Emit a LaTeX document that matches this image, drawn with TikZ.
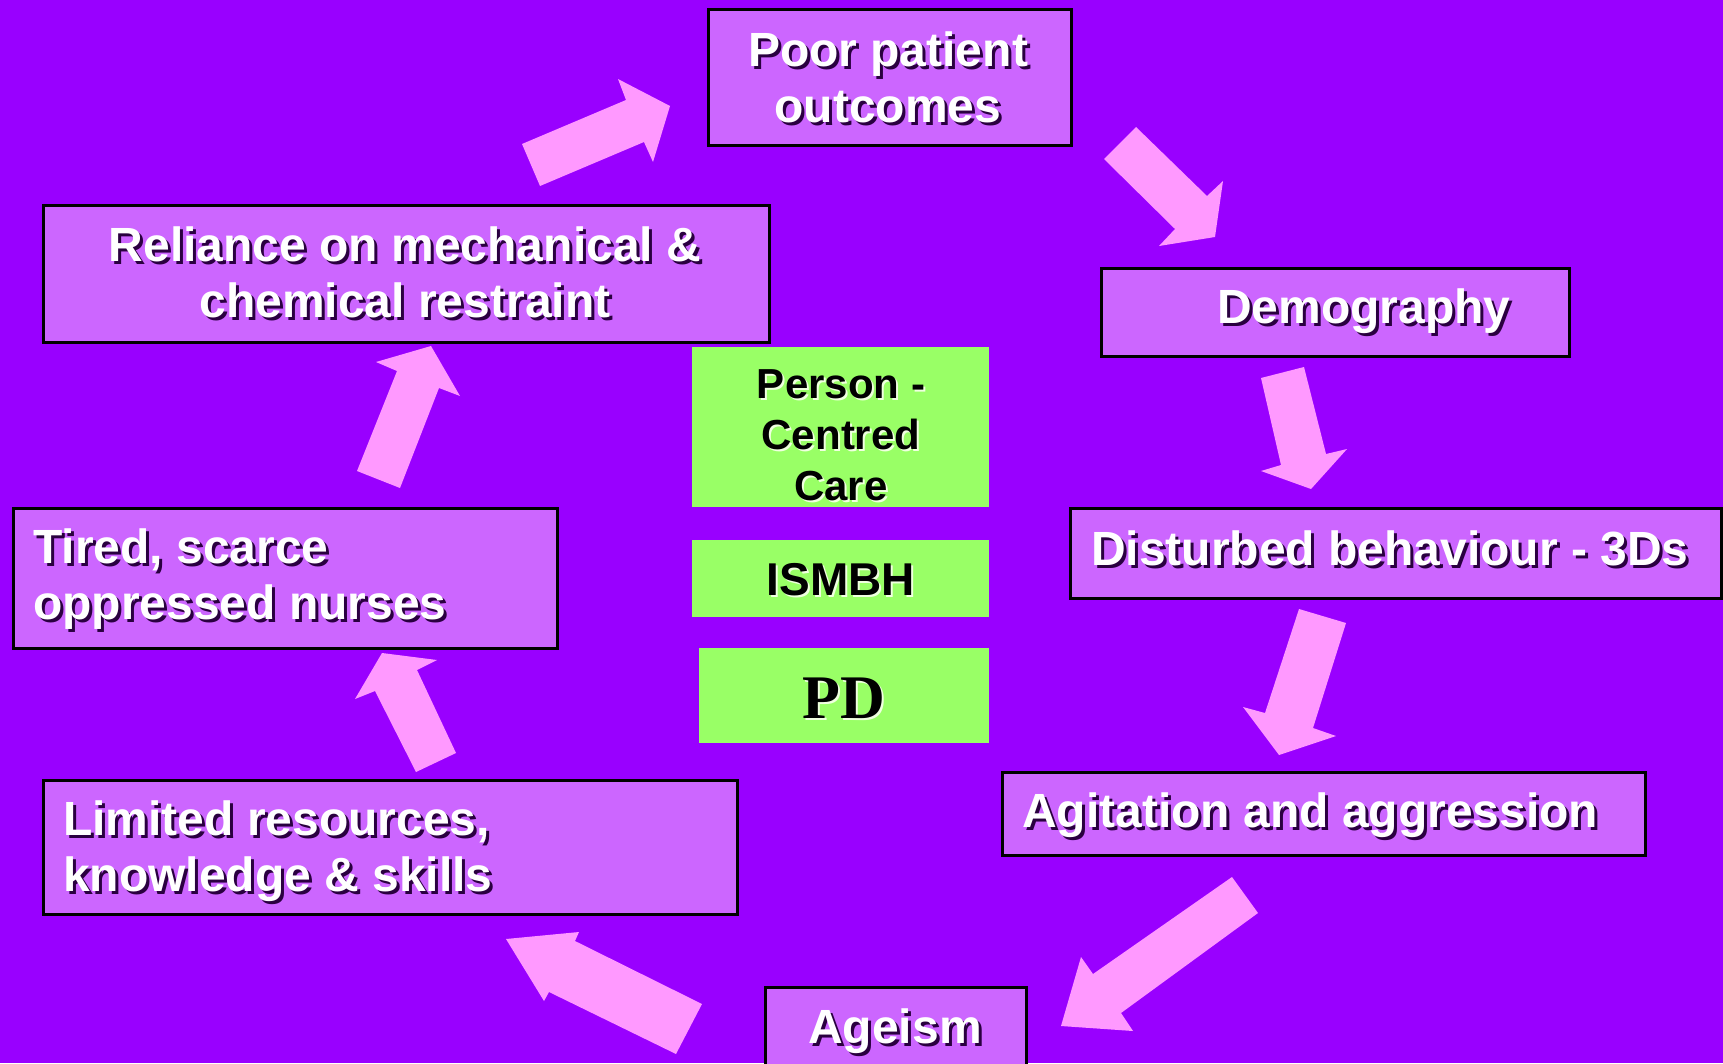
\documentclass[tikz,border=0pt]{standalone}
\usepackage{fontspec}
\setmainfont{Liberation Sans}
\newfontfamily\serifbold{Liberation Serif}
\definecolor{bgcol}{HTML}{9900FF}
\definecolor{boxcol}{HTML}{CC66FF}
\definecolor{arrcol}{HTML}{FF99FF}
\definecolor{greencol}{HTML}{99FF66}
\definecolor{darkshadow}{HTML}{2A0040}
\definecolor{lightshadow}{HTML}{F0FFE0}
\tikzset{
  box/.style={draw=black, line width=2.5pt, fill=boxcol, inner sep=0pt, anchor=north west},
  gbox/.style={fill=greencol, inner sep=0pt, anchor=north west},
  wtxt/.style={text=white, font=\fontsize{48}{56}\selectfont\bfseries, inner sep=0pt},
  gtxt/.style={text=black, font=\fontsize{42}{51}\selectfont\bfseries, inner sep=0pt, align=center},
  blockarrow/.style={fill=arrcol, draw=none}
}
\newcommand\shtext[6]{%
  \node[#3,text=#5] (#1-sh) at ([shift={(#6,#6)}]#2) {#4};
  \node[#3] (#1) at (#2) {#4};}
\begin{document}
\begin{tikzpicture}[x=1pt,y=-1pt]
\fill[bgcol] (0,0) rectangle (1723,1063);
\useasboundingbox (0,0) rectangle (1723,1063);
\clip (0,0) rectangle (1723,1063);

% boxes
\node[box, minimum width=363pt, minimum height=136pt] (poorbox) at (707,8) {};
\node[box, minimum width=726pt, minimum height=137pt] (relbox) at (42,204) {};
\node[box, minimum width=468pt, minimum height=88pt] (demobox) at (1100,267) {};
\node[box, minimum width=651pt, minimum height=90pt] (distbox) at (1069,507) {};
\node[box, minimum width=643pt, minimum height=83pt] (agitbox) at (1001,771) {};
\node[box, minimum width=261pt, minimum height=100pt] (agebox) at (764,986) {};
\node[box, minimum width=694pt, minimum height=134pt] (limbox) at (42,779) {};
\node[box, minimum width=544pt, minimum height=140pt] (tirbox) at (12,507) {};

\node[gbox, minimum width=297pt, minimum height=160pt] (pccbox) at (692,347) {};
\node[gbox, minimum width=297pt, minimum height=77pt] (ismbox) at (692,540) {};
\node[gbox, minimum width=290pt, minimum height=95pt] (pdbox) at (699,648) {};

% texts
\shtext{poor}{888,77}{wtxt,align=center}{Poor patient\\outcomes}{darkshadow}{3}
\shtext{rel}{405,272}{wtxt,align=center}{Reliance on mechanical \&\\chemical restraint}{darkshadow}{3}
\shtext{demo}{1217,311}{wtxt,anchor=west}{Demography}{darkshadow}{3}
\shtext{dist}{1091,548}{wtxt,anchor=west}{Disturbed behaviour - 3Ds}{darkshadow}{3}
\shtext{agit}{1022,815}{wtxt,anchor=west}{Agitation and aggression}{darkshadow}{3}
\shtext{age}{895,1031}{wtxt}{Ageism}{darkshadow}{3}
\shtext{lim}{63,851}{wtxt,anchor=west,align=left}{Limited resources,\\knowledge \& skills}{darkshadow}{3}
\shtext{tir}{33,579}{wtxt,anchor=west,align=left}{Tired, scarce\\oppressed nurses}{darkshadow}{3}

\shtext{pcc}{841,435}{gtxt}{Person -\\Centred\\Care}{lightshadow}{2}
\shtext{ism}{841,580}{gtxt,font=\fontsize{46}{51}\selectfont\bfseries}{ISMBH}{lightshadow}{2}
\shtext{pd}{844,698}{gtxt,font=\fontsize{62}{70}\selectfont\serifbold\bfseries}{PD}{lightshadow}{2}

% block arrows
\fill[blockarrow] (522,144) -- (626,100) -- (618,79) -- (670,106) -- (653,162) -- (644,142) -- (540,186) -- cycle;
\fill[blockarrow] (1104,159) -- (1136,127) -- (1207,196) -- (1223,181) -- (1215,237) -- (1159,246) -- (1175,229) -- cycle;
\fill[blockarrow] (1261,378) -- (1304,367) -- (1326,454) -- (1347,449) -- (1311,489) -- (1261,471) -- (1281,465) -- cycle;
\fill[blockarrow] (1299,609) -- (1346,623) -- (1313,728) -- (1336,736) -- (1279,755) -- (1243,707) -- (1265,713) -- cycle;
\fill[blockarrow] (1232,877) -- (1258,913) -- (1121,1013) -- (1133,1031) -- (1061,1026) -- (1081,957) -- (1093,974) -- cycle;
\fill[blockarrow] (702,1004) -- (575,941) -- (579,932) -- (506,939) -- (544,1001) -- (549,992) -- (676,1054) -- cycle;
\fill[blockarrow] (456,753) -- (417,670) -- (437,660) -- (382,653) -- (355,699) -- (375,691) -- (416,772) -- cycle;
\fill[blockarrow] (357,471) -- (397,371) -- (376,362) -- (431,346) -- (460,396) -- (439,388) -- (400,488) -- cycle;
\end{tikzpicture}
\end{document}
